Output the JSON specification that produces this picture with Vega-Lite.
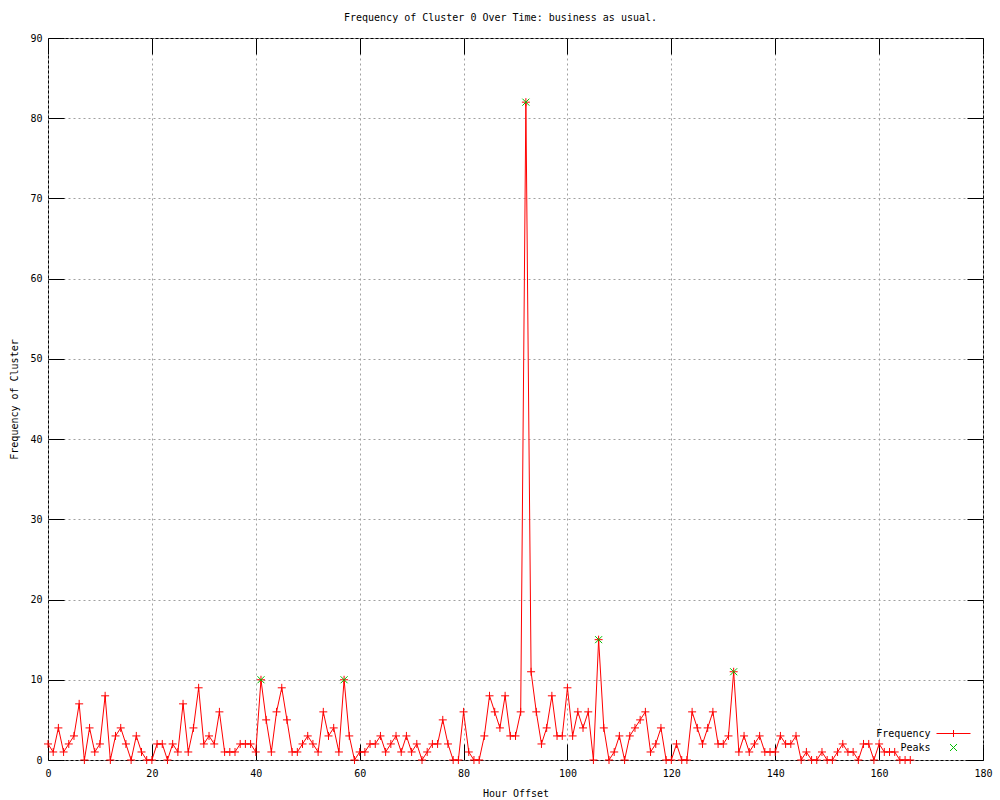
{
  "$schema": "https://vega.github.io/schema/vega-lite/v6.json",
  "width": 935,
  "height": 722,
  "autosize": {"type": "none"},
  "padding": {"left": 48, "top": 38, "right": 17, "bottom": 40},
  "background": "white",
  "title": {
    "text": "Frequency of Cluster 0 Over Time: business as usual.",
    "font": "DejaVu Sans Mono",
    "fontSize": 10,
    "fontWeight": "normal",
    "color": "black",
    "anchor": "middle",
    "frame": "group",
    "dx": -15,
    "offset": 10
  },
  "config": {
    "view": {"stroke": "black", "strokeWidth": 1},
    "axis": {
      "domain": false,
      "labelFont": "DejaVu Sans Mono",
      "labelFontSize": 10,
      "labelColor": "black",
      "titleFont": "DejaVu Sans Mono",
      "titleFontSize": 10,
      "titleFontWeight": "normal",
      "titleColor": "black",
      "tickColor": "black",
      "tickSize": -16,
      "tickWidth": 1,
      "gridColor": "#a0a0a0",
      "gridDash": [2, 3],
      "gridWidth": 1,
      "gridOpacity": 1
    },
    "legend": {"symbolStrokeColor": "#ff0000"}
  },
  "data": {
    "values": [
      {"h":0,"c":2,"s":"Frequency"},{"h":1,"c":1,"s":"Frequency"},{"h":2,"c":4,"s":"Frequency"},{"h":3,"c":1,"s":"Frequency"},{"h":4,"c":2,"s":"Frequency"},{"h":5,"c":3,"s":"Frequency"},{"h":6,"c":7,"s":"Frequency"},{"h":7,"c":0,"s":"Frequency"},{"h":8,"c":4,"s":"Frequency"},{"h":9,"c":1,"s":"Frequency"},
      {"h":10,"c":2,"s":"Frequency"},{"h":11,"c":8,"s":"Frequency"},{"h":12,"c":0,"s":"Frequency"},{"h":13,"c":3,"s":"Frequency"},{"h":14,"c":4,"s":"Frequency"},{"h":15,"c":2,"s":"Frequency"},{"h":16,"c":0,"s":"Frequency"},{"h":17,"c":3,"s":"Frequency"},{"h":18,"c":1,"s":"Frequency"},{"h":19,"c":0,"s":"Frequency"},
      {"h":20,"c":0,"s":"Frequency"},{"h":21,"c":2,"s":"Frequency"},{"h":22,"c":2,"s":"Frequency"},{"h":23,"c":0,"s":"Frequency"},{"h":24,"c":2,"s":"Frequency"},{"h":25,"c":1,"s":"Frequency"},{"h":26,"c":7,"s":"Frequency"},{"h":27,"c":1,"s":"Frequency"},{"h":28,"c":4,"s":"Frequency"},{"h":29,"c":9,"s":"Frequency"},
      {"h":30,"c":2,"s":"Frequency"},{"h":31,"c":3,"s":"Frequency"},{"h":32,"c":2,"s":"Frequency"},{"h":33,"c":6,"s":"Frequency"},{"h":34,"c":1,"s":"Frequency"},{"h":35,"c":1,"s":"Frequency"},{"h":36,"c":1,"s":"Frequency"},{"h":37,"c":2,"s":"Frequency"},{"h":38,"c":2,"s":"Frequency"},{"h":39,"c":2,"s":"Frequency"},
      {"h":40,"c":1,"s":"Frequency"},{"h":41,"c":10,"s":"Frequency"},{"h":42,"c":5,"s":"Frequency"},{"h":43,"c":1,"s":"Frequency"},{"h":44,"c":6,"s":"Frequency"},{"h":45,"c":9,"s":"Frequency"},{"h":46,"c":5,"s":"Frequency"},{"h":47,"c":1,"s":"Frequency"},{"h":48,"c":1,"s":"Frequency"},{"h":49,"c":2,"s":"Frequency"},
      {"h":50,"c":3,"s":"Frequency"},{"h":51,"c":2,"s":"Frequency"},{"h":52,"c":1,"s":"Frequency"},{"h":53,"c":6,"s":"Frequency"},{"h":54,"c":3,"s":"Frequency"},{"h":55,"c":4,"s":"Frequency"},{"h":56,"c":1,"s":"Frequency"},{"h":57,"c":10,"s":"Frequency"},{"h":58,"c":3,"s":"Frequency"},{"h":59,"c":0,"s":"Frequency"},
      {"h":60,"c":1,"s":"Frequency"},{"h":61,"c":1,"s":"Frequency"},{"h":62,"c":2,"s":"Frequency"},{"h":63,"c":2,"s":"Frequency"},{"h":64,"c":3,"s":"Frequency"},{"h":65,"c":1,"s":"Frequency"},{"h":66,"c":2,"s":"Frequency"},{"h":67,"c":3,"s":"Frequency"},{"h":68,"c":1,"s":"Frequency"},{"h":69,"c":3,"s":"Frequency"},
      {"h":70,"c":1,"s":"Frequency"},{"h":71,"c":2,"s":"Frequency"},{"h":72,"c":0,"s":"Frequency"},{"h":73,"c":1,"s":"Frequency"},{"h":74,"c":2,"s":"Frequency"},{"h":75,"c":2,"s":"Frequency"},{"h":76,"c":5,"s":"Frequency"},{"h":77,"c":2,"s":"Frequency"},{"h":78,"c":0,"s":"Frequency"},{"h":79,"c":0,"s":"Frequency"},
      {"h":80,"c":6,"s":"Frequency"},{"h":81,"c":1,"s":"Frequency"},{"h":82,"c":0,"s":"Frequency"},{"h":83,"c":0,"s":"Frequency"},{"h":84,"c":3,"s":"Frequency"},{"h":85,"c":8,"s":"Frequency"},{"h":86,"c":6,"s":"Frequency"},{"h":87,"c":4,"s":"Frequency"},{"h":88,"c":8,"s":"Frequency"},{"h":89,"c":3,"s":"Frequency"},
      {"h":90,"c":3,"s":"Frequency"},{"h":91,"c":6,"s":"Frequency"},{"h":92,"c":82,"s":"Frequency"},{"h":93,"c":11,"s":"Frequency"},{"h":94,"c":6,"s":"Frequency"},{"h":95,"c":2,"s":"Frequency"},{"h":96,"c":4,"s":"Frequency"},{"h":97,"c":8,"s":"Frequency"},{"h":98,"c":3,"s":"Frequency"},{"h":99,"c":3,"s":"Frequency"},
      {"h":100,"c":9,"s":"Frequency"},{"h":101,"c":3,"s":"Frequency"},{"h":102,"c":6,"s":"Frequency"},{"h":103,"c":4,"s":"Frequency"},{"h":104,"c":6,"s":"Frequency"},{"h":105,"c":0,"s":"Frequency"},{"h":106,"c":15,"s":"Frequency"},{"h":107,"c":4,"s":"Frequency"},{"h":108,"c":0,"s":"Frequency"},{"h":109,"c":1,"s":"Frequency"},
      {"h":110,"c":3,"s":"Frequency"},{"h":111,"c":0,"s":"Frequency"},{"h":112,"c":3,"s":"Frequency"},{"h":113,"c":4,"s":"Frequency"},{"h":114,"c":5,"s":"Frequency"},{"h":115,"c":6,"s":"Frequency"},{"h":116,"c":1,"s":"Frequency"},{"h":117,"c":2,"s":"Frequency"},{"h":118,"c":4,"s":"Frequency"},{"h":119,"c":0,"s":"Frequency"},
      {"h":120,"c":0,"s":"Frequency"},{"h":121,"c":2,"s":"Frequency"},{"h":122,"c":0,"s":"Frequency"},{"h":123,"c":0,"s":"Frequency"},{"h":124,"c":6,"s":"Frequency"},{"h":125,"c":4,"s":"Frequency"},{"h":126,"c":2,"s":"Frequency"},{"h":127,"c":4,"s":"Frequency"},{"h":128,"c":6,"s":"Frequency"},{"h":129,"c":2,"s":"Frequency"},
      {"h":130,"c":2,"s":"Frequency"},{"h":131,"c":3,"s":"Frequency"},{"h":132,"c":11,"s":"Frequency"},{"h":133,"c":1,"s":"Frequency"},{"h":134,"c":3,"s":"Frequency"},{"h":135,"c":1,"s":"Frequency"},{"h":136,"c":2,"s":"Frequency"},{"h":137,"c":3,"s":"Frequency"},{"h":138,"c":1,"s":"Frequency"},{"h":139,"c":1,"s":"Frequency"},
      {"h":140,"c":1,"s":"Frequency"},{"h":141,"c":3,"s":"Frequency"},{"h":142,"c":2,"s":"Frequency"},{"h":143,"c":2,"s":"Frequency"},{"h":144,"c":3,"s":"Frequency"},{"h":145,"c":0,"s":"Frequency"},{"h":146,"c":1,"s":"Frequency"},{"h":147,"c":0,"s":"Frequency"},{"h":148,"c":0,"s":"Frequency"},{"h":149,"c":1,"s":"Frequency"},
      {"h":150,"c":0,"s":"Frequency"},{"h":151,"c":0,"s":"Frequency"},{"h":152,"c":1,"s":"Frequency"},{"h":153,"c":2,"s":"Frequency"},{"h":154,"c":1,"s":"Frequency"},{"h":155,"c":1,"s":"Frequency"},{"h":156,"c":0,"s":"Frequency"},{"h":157,"c":2,"s":"Frequency"},{"h":158,"c":2,"s":"Frequency"},{"h":159,"c":0,"s":"Frequency"},
      {"h":160,"c":2,"s":"Frequency"},{"h":161,"c":1,"s":"Frequency"},{"h":162,"c":1,"s":"Frequency"},{"h":163,"c":1,"s":"Frequency"},{"h":164,"c":0,"s":"Frequency"},{"h":165,"c":0,"s":"Frequency"},{"h":166,"c":0,"s":"Frequency"},
      {"h":41,"c":10,"s":"Peaks"},{"h":57,"c":10,"s":"Peaks"},{"h":92,"c":82,"s":"Peaks"},{"h":106,"c":15,"s":"Peaks"},{"h":132,"c":11,"s":"Peaks"}
    ]
  },
  "resolve": {"axis": {"x": "independent", "y": "independent"}},
  "layer": [
    {
      "transform": [{"filter": "datum.s === 'Frequency'"}],
      "mark": {"type": "line", "strokeWidth": 1, "interpolate": "linear", "clip": false},
      "encoding": {
        "x": {"field": "h", "type": "quantitative", "scale": {"domain": [0, 180], "nice": false},
              "axis": {"orient": "bottom", "title": "Hour Offset", "values": [0,20,40,60,80,100,120,140,160,180], "labelPadding": 24, "titlePadding": 10, "grid": true, "labelFlush": false}},
        "y": {"field": "c", "type": "quantitative", "scale": {"domain": [0, 90], "nice": false, "zero": true},
              "axis": {"orient": "left", "title": "Frequency of Cluster", "values": [0,10,20,30,40,50,60,70,80,90], "labelPadding": 22, "titlePadding": 10, "grid": true, "labelFlush": false}},
        "color": {"field": "s", "type": "nominal",
                  "scale": {"domain": ["Frequency", "Peaks"], "range": ["#ff0000", "#00c000"]},
                  "legend": {
                    "orient": "none", "legendX": 900, "legendY": 690, "title": null,
                    "labelFont": "DejaVu Sans Mono", "labelFontSize": 10, "labelColor": "black",
                    "labelAlign": "right", "labelOffset": -28.5,
                    "symbolSize": 100, "symbolStrokeWidth": 1, "rowPadding": 3, "padding": 0,
                    "encode": {"symbols": {"update": {
                      "shape": {"signal": "datum.label === 'Peaks' ? 'M-0.7,-0.7L0.7,0.7M-0.7,0.7L0.7,-0.7' : 'M-3.4,0H3.4M0,-0.7V0.7'"},
                      "fill": {"value": "transparent"},
                      "stroke": {"signal": "datum.label === 'Peaks' ? '#00c000' : '#ff0000'"},
                      "strokeWidth": {"value": 1},
                      "strokeOpacity": {"value": 1},
                      "opacity": {"value": 1}
                    }}}
                  }}
      }
    },
    {
      "transform": [{"filter": "datum.s === 'Frequency'"}],
      "mark": {"type": "point", "shape": "M-1,0H1M0,-1V1", "size": 64, "filled": false, "strokeWidth": 1, "opacity": 1, "clip": false},
      "encoding": {
        "x": {"field": "h", "type": "quantitative", "axis": null},
        "y": {"field": "c", "type": "quantitative", "axis": null},
        "color": {"field": "s", "type": "nominal"}
      }
    },
    {
      "transform": [{"filter": "datum.s === 'Peaks'"}],
      "mark": {"type": "point", "shape": "M-1,-1L1,1M-1,1L1,-1", "size": 49, "filled": false, "strokeWidth": 1, "opacity": 1, "clip": false},
      "encoding": {
        "x": {"field": "h", "type": "quantitative",
              "axis": {"orient": "top", "title": null, "labels": false, "grid": false, "values": [0,20,40,60,80,100,120,140,160,180]}},
        "y": {"field": "c", "type": "quantitative",
              "axis": {"orient": "right", "title": null, "labels": false, "grid": false, "values": [0,10,20,30,40,50,60,70,80,90]}},
        "color": {"field": "s", "type": "nominal"}
      }
    }
  ]
}
